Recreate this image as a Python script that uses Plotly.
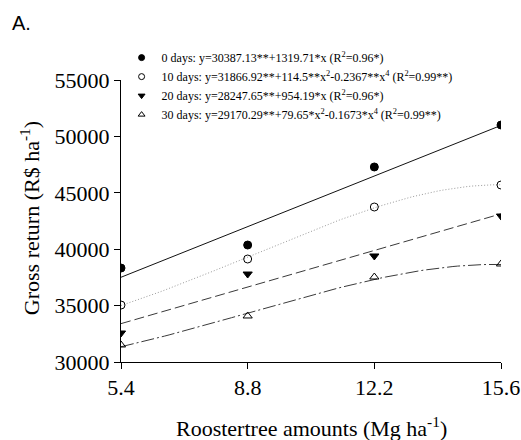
import numpy as np
import plotly.graph_objects as go

# Data
amounts = [5.4, 8.8, 12.2, 15.6]
tick_labels = ["5.4", "8.8", "12.2", "15.6"]
y_ticks = [30000, 35000, 40000, 45000, 50000, 55000]
y_tick_labels = ["30000", "35000", "40000", "45000", "50000", "55000"]
days0 = [38330, 40370, 47290, 51010]
days10 = [35050, 39130, 43740, 45690]
days20 = [32570, 37800, 39400, 42940]
days30 = [31510, 34080, 37535, 38690]

# Regression coefficients printed in the chart: y = a + b*x + c*x^2 + d*x^4
coef0 = [30387.13, 1319.71, 0.0, 0.0]
coef10 = [31866.92, 0.0, 114.5, -0.2367]
coef20 = [28247.65, 954.19, 0.0, 0.0]
coef30 = [29170.29, 0.0, 79.65, -0.1673]

labels = [
    "0 days: y=30387.13**+1319.71*x (R<sup>2</sup>=0.96*)",
    "10 days: y=31866.92**+114.5**x<sup>2</sup>-0.2367**x<sup>4</sup> (R<sup>2</sup>=0.99**)",
    "20 days: y=28247.65**+954.19*x (R<sup>2</sup>=0.96*)",
    "30 days: y=29170.29**+79.65*x<sup>2</sup>-0.1673*x<sup>4</sup> (R<sup>2</sup>=0.99**)",
]

series = [days0, days10, days20, days30]
coefs = [coef0, coef10, coef20, coef30]
symbols = ["circle", "circle-open", "triangle-down", "triangle-up-open"]
line_colors = ["#111111", "#9a9a9a", "#3a3a3a", "#3a3a3a"]
dashes = ["solid", "1px,2px", "10px,4px", "13px,3px,2px,3px"]

xs = np.linspace(amounts[0], amounts[-1], 80)

serif = "Liberation Serif"

fig = go.Figure()
for vals, c, col, dsh in zip(series, coefs, line_colors, dashes):
    a, b, c2, d = c
    ys = a + b * xs + c2 * xs**2 + d * xs**4
    fig.add_trace(go.Scatter(x=xs, y=ys, mode="lines", showlegend=False,
                             line=dict(color=col, width=1, dash=dsh),
                             hoverinfo="skip"))
for vals, sym in zip(series, symbols):
    fig.add_trace(go.Scatter(x=amounts, y=vals, mode="markers", showlegend=False,
                             marker=dict(symbol=sym, size=8, color="black",
                                         line=dict(color="black", width=1))))
# legend-only entries (smaller symbols, as in the reference key)
for sym, lab in zip(symbols, labels):
    fig.add_trace(go.Scatter(x=[None], y=[None], mode="markers", name=lab,
                             marker=dict(symbol=sym, size=6, color="black",
                                         line=dict(color="black", width=1))))

fig.update_layout(
    width=521, height=440,
    margin=dict(l=121, r=20, t=80, b=78, autoexpand=False),
    paper_bgcolor="white", plot_bgcolor="white",
    font=dict(family=serif, color="black"),
    showlegend=True,
    legend=dict(x=0.2334, y=0.902, xref="container", yref="container",
                xanchor="left", yanchor="top",
                font=dict(family=serif, size=12, color="black"),
                bgcolor="rgba(0,0,0,0)", tracegroupgap=0),
    xaxis=dict(range=[5.4, 15.6], tickvals=amounts, ticktext=tick_labels,
               showgrid=False, zeroline=False, showline=True, linecolor="black",
               linewidth=1, ticks="outside", ticklen=6, tickcolor="black",
               tickfont=dict(size=22, family=serif)),
    yaxis=dict(range=[30000, 55000], tickvals=y_ticks, ticktext=y_tick_labels,
               showgrid=False, zeroline=False, showline=True, linecolor="black",
               linewidth=1, ticks="outside", ticklen=6, tickcolor="black",
               tickfont=dict(size=22, family=serif)),
    annotations=[
        dict(text="A.", xref="paper", yref="paper", x=-0.292, y=1.202,
             xanchor="left", yanchor="middle", showarrow=False,
             font=dict(family="Liberation Sans", size=20)),
        dict(text="Roostertree amounts (Mg ha<sup>-1</sup>)", xref="paper", yref="paper",
             x=0.5, y=-0.23, xanchor="center", yanchor="middle", showarrow=False,
             font=dict(family=serif, size=22)),
        dict(text="Gross return (R$ ha<sup>-1</sup>)", xref="paper", yref="paper",
             x=-0.2395, y=0.51, xanchor="center", yanchor="middle", showarrow=False,
             textangle=-90, font=dict(family=serif, size=22)),
    ],
)

fig.write_html("out.html",
               config={"displayModeBar": False},
               post_script="document.body.style.margin='0';document.body.style.padding='0';")
